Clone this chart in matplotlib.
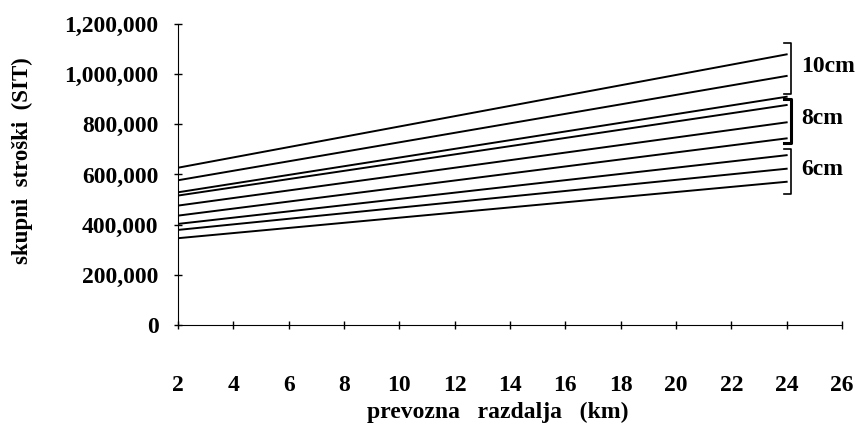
import matplotlib
matplotlib.use('Agg')
import matplotlib.pyplot as plt

# prevozna razdalja (km)
razdalja = [2, 24]
# skupni stroski (SIT) per line, top to bottom
stroski = [
    [627000, 1079000],
    [577000, 993000],
    [529000, 910000],
    [516000, 877000],
    [476000, 808000],
    [436000, 744000],
    [403000, 677000],
    [379000, 623000],
    [346000, 571000],
]
skupine = ['10cm', '8cm', '6cm']
skupine_od = [1125000, 900000, 702000]
skupine_do = [922000, 727000, 524000]
xticks = list(range(2, 27, 2))
yticks = list(range(0, 1200001, 200000))

plt.rcParams['font.family'] = ['Liberation Serif', 'DejaVu Serif']
plt.rcParams['font.weight'] = 'bold'

fig = plt.figure(figsize=(8.59, 4.28), dpi=100)
ax = fig.add_axes([0.2072, 0.2407, 0.773, 0.7032])

for s in stroski:
    ax.plot(razdalja, s, color='black', lw=1.4)

# oklepaji z oznakami debeline
bx = 24.15
for lab, y0, y1, lw in zip(skupine, skupine_od, skupine_do, [1.2, 2.2, 1.2]):
    ax.plot([bx - 0.25, bx, bx, bx - 0.25], [y0, y0, y1, y1], color='black', lw=lw,
            clip_on=False)
    ax.text(bx + 0.38, (y0 + y1) / 2 + 8000, lab, fontsize=17, fontweight='bold',
            va='center', ha='left')

ax.set_xlim(2, 26)
ax.set_ylim(0, 1200000)
ax.set_xticks(xticks)
ax.set_yticks(yticks)
ax.set_yticklabels(['{:,}'.format(v) for v in yticks])
ax.spines['top'].set_visible(False)
ax.spines['right'].set_visible(False)
ax.tick_params(direction='inout', length=6, width=1, labelsize=17)
ax.tick_params(axis='x', pad=33)
ax.tick_params(axis='y', pad=11)
ax.set_xlabel('prevozna   razdalja   (km)', fontsize=17, fontweight='bold')
ax.set_ylabel('skupni  stroški  (SIT)', fontsize=16.5, fontweight='bold')
ax.xaxis.set_label_coords(0.481, -0.255)
ax.yaxis.set_label_coords(-0.218, 0.545)

fig.savefig('out.png', dpi=100)
